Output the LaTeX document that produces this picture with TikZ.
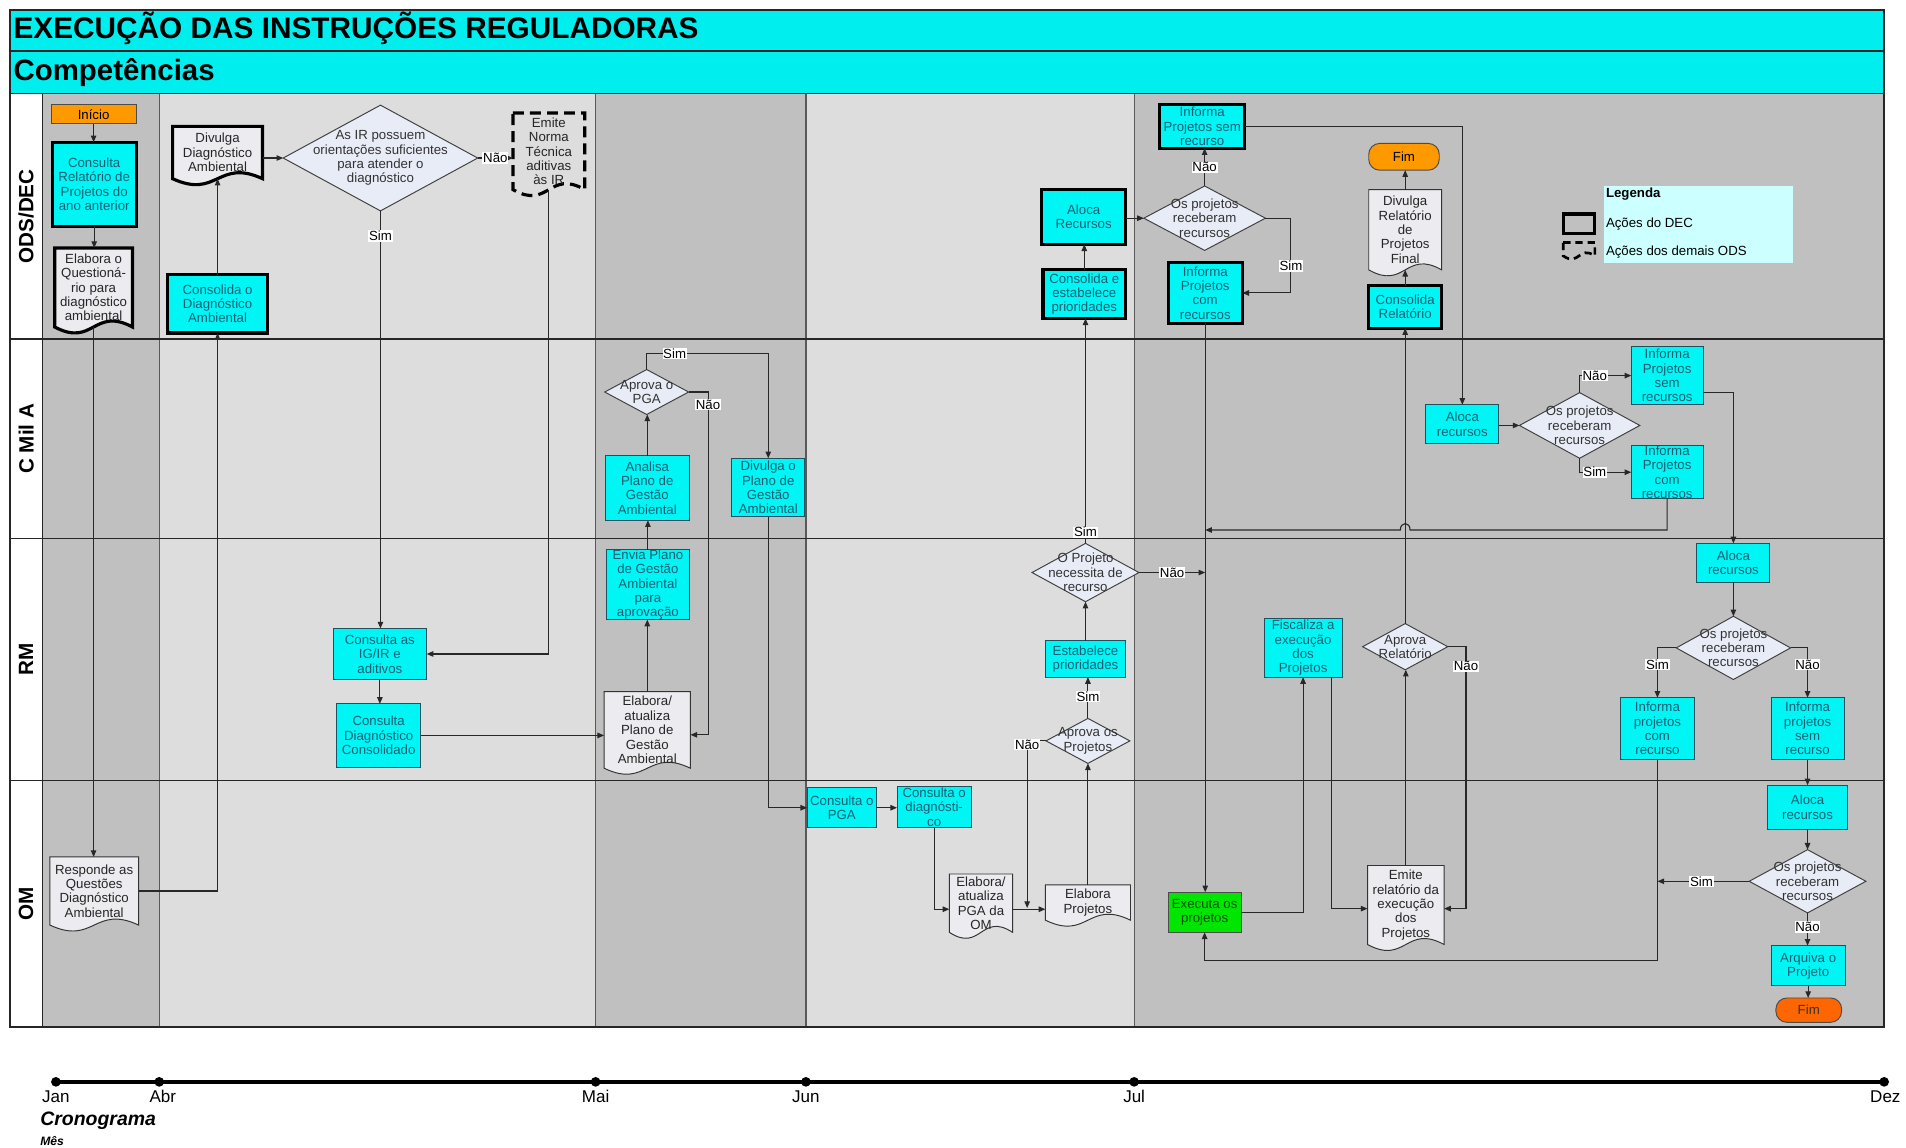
\documentclass[tikz,border=0pt]{standalone}
\usepackage{fontspec}
\setmainfont{Liberation Sans}
\usetikzlibrary{shapes.geometric,arrows.meta,calc}
\definecolor{cyanbox}{RGB}{0,245,245}
\definecolor{titlecyan}{RGB}{0,238,238}
\definecolor{darkcol}{RGB}{192,192,192}
\definecolor{lightcol}{RGB}{221,221,221}
\definecolor{tealtext}{RGB}{25,95,115}
\definecolor{tealborder}{RGB}{30,80,95}
\definecolor{diafill}{RGB}{232,236,246}
\definecolor{docfill}{RGB}{236,236,240}
\definecolor{orangefill}{RGB}{255,153,0}
\definecolor{redorange}{RGB}{255,102,0}
\definecolor{greenfill}{RGB}{0,230,0}
\definecolor{darkgreen}{RGB}{0,80,0}
\definecolor{legendfill}{RGB}{204,255,255}
\definecolor{linecol}{RGB}{40,40,40}
\newcommand{\boxfont}{\fontsize{10.9}{11.8}\selectfont}
\tikzset{
  box/.style={rectangle, draw=tealborder, line width=0.8pt, fill=cyanbox, text=tealtext, align=center, inner sep=0pt, outer sep=0pt, font=\boxfont},
  dec/.style={draw=black, line width=2.6pt},
  docframe/.style={rectangle, draw=none, inner sep=0pt, outer sep=0pt},
  docline/.style={draw=black!80, line width=0.8pt, fill=docfill},
  doctext/.style={align=center, font=\boxfont, text=black!85, inner sep=0pt},
  dia/.style={diamond, draw=black!75, line width=0.8pt, fill=diafill, inner sep=0pt, outer sep=0pt},
  diatext/.style={align=center, font=\boxfont, text=black!80, inner sep=0pt},
  lbl/.style={fill=white, inner sep=0.6pt, font=\boxfont, text=black},
  conn/.style={draw=linecol, line width=0.9pt, -{Triangle[length=5.5pt,width=4.5pt]}},
  lanetitle/.style={rotate=90, font=\fontsize{17}{20}\selectfont\bfseries, inner sep=0pt},
  tickdot/.style={circle, fill=black, inner sep=0pt, minimum size=8pt},
  ticklabel/.style={font=\fontsize{14}{16}\selectfont, inner sep=0pt},
  laneline/.style={draw=black!85, line width=1.4pt},
  colline/.style={draw=black!65, line width=1pt}
}
\newcommand{\flowbox}[7][]{%
  \pgfmathsetmacro{\fbw}{#5-#3}%
  \pgfmathsetmacro{\fbh}{#6-#4}%
  \pgfmathsetmacro{\fbx}{(#3+#5)/2}%
  \pgfmathsetmacro{\fby}{(#4+#6)/2}%
  \node[box,#1,minimum width=\fbw pt,minimum height=\fbh pt] (#2) at (\fbx,\fby) {#7};%
}
\newcommand{\flowdoc}[7][]{%
  \pgfmathsetmacro{\fbw}{#5-#3}%
  \pgfmathsetmacro{\fbh}{#6-#4}%
  \pgfmathsetmacro{\fbx}{(#3+#5)/2}%
  \pgfmathsetmacro{\fby}{(#4+#6)/2}%
  \node[docframe,minimum width=\fbw pt,minimum height=\fbh pt] (#2) at (\fbx,\fby) {};%
  \draw[docline,#1] (#2.north west) -- (#2.north east) -- (#2.south east) .. controls ($(#2.south)+(0,-17)$) and ($(#2.south)+(0,17)$) .. (#2.south west) -- cycle;%
  \node[doctext] (#2-t) at (#2.center) {#7};%
}
\newcommand{\flowdia}[7][]{%
  \node[dia,#1,minimum width=#5pt,minimum height=#6pt] (#2) at (#3,#4) {};%
  \node[diatext] (#2-t) at (#2.center) {#7};%
}
\begin{document}
\begin{tikzpicture}[x=1pt,y=-1pt]
\useasboundingbox (0,0) rectangle (1568,944);
\fill[white] (0,0) rectangle (1568,944);
% bands and columns
\fill[titlecyan] (8,8) rectangle (1550,77);
\fill[darkcol] (35,77) rectangle (131,845);
\fill[lightcol] (131,77) rectangle (490,845);
\fill[darkcol] (490,77) rectangle (663,845);
\fill[lightcol] (663,77) rectangle (933,845);
\fill[darkcol] (933,77) rectangle (1550,845);
\foreach \cx in {131,490,663,933} \draw[colline] (\cx,77) -- (\cx,845);
\draw[laneline] (35,77) -- (35,845);
\foreach \ly in {42,77,279,443,642} \draw[laneline] (8,\ly) -- (1550,\ly);
\draw[laneline] (8,8) rectangle (1550,845);
\node[anchor=west, inner sep=0pt, font=\fontsize{24.5}{28}\selectfont\bfseries] (title) at (11,23) {EXECUÇÃO DAS INSTRUÇÕES REGULADORAS};
\node[anchor=west, inner sep=0pt, font=\fontsize{24.2}{28}\selectfont\bfseries] (comp) at (11,60) {Competências};
\node[lanetitle] (lODS) at (21.5,178) {ODS/DEC};
\node[lanetitle] (lCMA) at (21.5,361) {C Mil A};
\node[lanetitle] (lRM) at (21.5,542.5) {RM};
\node[lanetitle] (lOM) at (21.5,743.5) {OM};

% ODS/DEC
\flowbox[fill=orangefill,draw=black!70,text=black]{inicio}{42}{86}{112}{102}{Início}
\flowbox[dec]{consRel}{43}{117}{112}{186}{Consulta\\Relatório de\\Projetos do\\ano anterior}
\flowdoc[dec]{elabQ}{45}{204}{109}{269}{Elabora o\\Questioná-\\rio para\\diagnóstico\\ambiental}
\flowdoc[dec]{divDiag}{142}{104}{216}{147}{Divulga\\Diagnóstico\\Ambiental}
\flowdia{dIR}{313}{130}{160}{87}{As IR possuem\\orientações suficientes\\para atender o\\diagnóstico}
\flowdoc[dec,fill=none,dash pattern=on 9pt off 5pt]{emite}{422}{93}{481}{156}{Emite\\Norma\\Técnica\\aditivas\\às IR}
\flowbox[dec]{consDiag}{138}{226}{220}{274}{Consolida o\\Diagnóstico\\Ambiental}
\flowbox[dec]{alocaR}{857}{156}{926}{201}{Aloca\\Recursos}
\flowbox[dec]{consEst}{858}{222}{926}{262}{Consolida e\\estabelece\\prioridades}
\flowdia{dRec1}{991}{179.5}{100}{53}{Os projetos\\receberam\\recursos}
\flowbox[dec]{infSem1}{954}{86}{1024}{122}{Informa\\Projetos sem\\recurso}
\flowbox[dec]{infCom1}{961}{216}{1022}{266}{Informa\\Projetos\\com\\recursos}
\flowbox[fill=orangefill,draw=black!70,text=black,rounded corners=9pt]{fim1}{1126}{118}{1184}{140}{Fim}
\flowdoc{divRel}{1126}{156}{1186}{222}{Divulga\\Relatório\\de\\Projetos\\Final}
\flowbox[dec]{consRelat}{1126}{235}{1186}{270}{Consolida\\Relatório}

% legend
\node[fill=legendfill, minimum width=156pt, minimum height=63pt, inner sep=0pt, anchor=north west] (legend) at (1319,153) {};
\node[anchor=west, inner sep=0pt, font=\fontsize{10.9}{12}\selectfont\bfseries] (legT) at (1321,160) {Legenda};
\node[rectangle, draw=black, line width=2.6pt, minimum width=26pt, minimum height=16pt, inner sep=0pt] (leg1) at (1299,184) {};
\node[anchor=west, inner sep=0pt, font=\boxfont] (leg1t) at (1321,184) {Ações do DEC};
\node[docframe, minimum width=26pt, minimum height=11pt] (leg2) at (1299,205) {};
\draw[draw=black, line width=2.2pt, dash pattern=on 6pt off 4pt] (leg2.north west) -- (leg2.north east) -- (leg2.south east) .. controls ($(leg2.south)+(0,-9)$) and ($(leg2.south)+(0,9)$) .. (leg2.south west) -- cycle;
\node[anchor=west, inner sep=0pt, font=\boxfont] (leg2t) at (1321,207) {Ações dos demais ODS};

% C Mil A
\flowdia{dPGA}{532}{322.5}{69}{37}{Aprova o\\PGA}
\flowbox{analisa}{498}{375}{567}{428}{Analisa\\Plano de\\Gestão\\Ambiental}
\flowbox{divPlano}{602}{377}{662}{425}{Divulga o\\Plano de\\Gestão\\Ambiental}
\flowbox{alocaC}{1173}{333}{1233}{365}{Aloca\\recursos}
\flowdia{dRec2}{1299.5}{350}{99}{54}{Os projetos\\receberam\\recursos}
\flowbox{infSemC}{1342}{285}{1401}{333}{Informa\\Projetos\\sem\\recursos}
\flowbox{infComC}{1342}{367}{1401}{410}{Informa\\Projetos\\com\\recursos}

% RM
\flowbox{envia}{499}{453}{567}{509}{Envia Plano\\de Gestão\\Ambiental\\para\\aprovação}
\flowbox{consIG}{274}{517}{351}{559}{Consulta as\\IG/IR e\\aditivos}
\flowbox{consDC}{277}{579}{346}{631}{Consulta\\Diagnóstico\\Consolidado}
\flowdoc{elabPGA}{497}{569}{568}{632}{Elabora/\\atualiza\\Plano de\\Gestão\\Ambiental}
\flowdia{dProj}{893}{471}{88}{48}{O Projeto\\necessita de\\recurso}
\flowbox{estab}{860}{527}{926}{557}{Estabelece\\prioridades}
\flowdia{dAprov}{895}{609.5}{69}{37}{Aprova os\\Projetos}
\flowbox{fisc}{1040}{509}{1104}{557}{Fiscaliza a\\execução\\dos\\Projetos}
\flowdia{dRel}{1156}{532}{70}{38}{Aprova\\Relatório}
\flowbox{alocaRM}{1396}{447}{1456}{479}{Aloca\\recursos}
\flowdia{dRec3}{1426}{533}{94}{52}{Os projetos\\receberam\\recursos}
\flowbox{infComRM}{1333}{574}{1394}{625}{Informa\\projetos\\com\\recurso}
\flowbox{infSemRM}{1457}{574}{1517}{625}{Informa\\projetos\\sem\\recurso}

% OM
\flowdoc{resp}{41}{705}{114}{761}{Responde as\\Questões\\Diagnóstico\\Ambiental}
\flowbox{consPGA}{664}{648}{721}{681}{Consulta o\\PGA}
\flowbox{consDg}{738}{647}{799}{681}{Consulta o\\diagnósti-\\co}
\flowdoc{elabOM}{781}{719}{833}{767}{Elabora/\\atualiza\\PGA da\\OM}
\flowdoc{elabProj}{860}{728}{930}{757}{Elabora\\Projetos}
\flowbox[fill=greenfill,draw=black!70,text=darkgreen]{exec}{961}{734}{1021}{767}{Executa os\\projetos}
\flowdoc{emiteRel}{1125}{712}{1188}{777}{Emite\\relatório da\\execução\\dos\\Projetos}
\flowbox{alocaOM}{1454}{646}{1520}{682}{Aloca\\recursos}
\flowdia{dRec4}{1487}{725}{96}{52}{Os projetos\\receberam\\recursos}
\flowbox{arquiva}{1457}{778}{1518}{811}{Arquiva o\\Projeto}
\flowbox[fill=redorange,draw=black!70,text=black!80,rounded corners=9pt]{fim2}{1461}{821}{1515}{841}{Fim}

% helper coordinates
\coordinate (yHop) at (0,436);
\coordinate (yLow) at (0,790);
\coordinate (jOM) at (845,748);

% connectors
\draw[conn] (inicio.south) -- (inicio.south |- consRel.north);
\draw[conn] (consRel.south) -- (consRel.south |- elabQ.north);
\draw[conn] (elabQ.south) -- (elabQ.south |- resp.north);
\draw[conn] (resp.east) -| (consDiag.south);
\draw[conn] (consDiag.north) -- (consDiag.north |- divDiag.south);
\draw[conn] (dIR.west -| divDiag.east) -- (dIR.west);
\draw[conn] (dIR.east) -- (dIR.east -| emite.west) node[lbl,pos=0.5] (nNao1) {Não};
\draw[conn] (emite.south) |- (consIG.east);
\draw[conn] (dIR.south) -- (dIR.south |- consIG.north) node[lbl,pos=0.06] (nSim1) {Sim};
\draw[conn] (consIG.south) -- (consIG.south |- consDC.north);
\draw[conn] (consDC.east) -- (consDC.east -| elabPGA.west);
\draw[conn] (elabPGA.north) -- (elabPGA.north |- envia.south);
\draw[conn] (envia.north) -- (envia.north |- analisa.south);
\draw[conn] (analisa.north) -- (analisa.north |- dPGA.south);
\draw[conn] (dPGA.north) -- ++(0,-13) -| node[lbl,pos=0.115] (nSim2) {Sim} (divPlano.north);
\draw[conn] (dPGA.east) -- ++(16,0) -- ++(0,10.5) node[lbl] (nNao2) {Não} |- ([yshift=-4pt]elabPGA.east);
\draw[conn] (divPlano.south) |- (consPGA.west);
\draw[conn] (consPGA.east) -- (consPGA.east -| consDg.west);
\draw[conn] (consDg.south) |- ([yshift=-5pt]elabOM.west);
\draw[conn] (elabOM.east |- jOM) -- (elabProj.west |- jOM);
\draw[conn] (dAprov.west) -| node[lbl,pos=0.5,yshift=-3pt] (nNao3) {Não} ([yshift=1pt]jOM);
\draw[conn] (elabProj.north) -- (elabProj.north |- dAprov.south);
\draw[conn] (dAprov.north) -- (dAprov.north |- estab.south) node[lbl,pos=0.53] (nSim3) {Sim};
\draw[conn] (estab.north) -- (estab.north |- dProj.south);
\draw[conn] (dProj.north) -- (dProj.north |- consEst.south) node[lbl,pos=0.05] (nSim4) {Sim};
\draw[conn] (consEst.north) -- (consEst.north |- alocaR.south);
\draw[conn] (dRec1.west -| alocaR.east) -- (dRec1.west);
\draw[conn] (dRec1.north) -- (dRec1.north |- infSem1.south) node[lbl,pos=0.5] (nNao4) {Não};
\draw[conn] (dRec1.east) -- ++(21,0) |- node[lbl,pos=0.32] (nSim5) {Sim} (infCom1.east);
\draw[conn] (infSem1.east) -| (alocaC.north);
\draw[conn] (infCom1.south) -- (infCom1.south |- exec.north);
\draw[conn] (dProj.east) -- (infCom1.south |- dProj.east) node[lbl,pos=0.5] (nNao5) {Não};
\draw[conn] (infComC.south) |- (1160,436) .. controls (1160,429) and (1152,429) .. (1152,436) -- (infCom1.south |- yHop);
\draw[conn] ([yshift=-14pt]infSemC.east) -| (alocaRM.north);
\draw[conn] (dRec2.west -| alocaC.east) -- (dRec2.west);
\draw[conn] (dRec2.north) |- node[lbl,pos=0.647] (nNao6) {Não} (infSemC.west);
\draw[conn] (dRec2.south) |- node[lbl,pos=0.647] (nSim6) {Sim} (infComC.west);
\draw[conn] (alocaRM.south) -- (alocaRM.south |- dRec3.north);
\draw[conn] (dRec3.west) -| node[lbl,pos=0.67] (nSim7) {Sim} (infComRM.north);
\draw[conn] (dRec3.east) -| node[lbl,pos=0.67] (nNao7) {Não} (infSemRM.north);
\draw[conn] (infSemRM.south) -- (infSemRM.south |- alocaOM.north);
\draw[conn] (alocaOM.south) -- (alocaOM.south |- dRec4.north);
\draw[conn] (dRec4.south) -- (dRec4.south |- arquiva.north) node[lbl,pos=0.43] (nNao8) {Não};
\draw[conn] (arquiva.south) -- (arquiva.south |- fim2.north);
\draw[conn] (dRec4.west) -- (infComRM.south |- dRec4.west) node[lbl,pos=0.52] (nSim8) {Sim};
\draw[conn] (infComRM.south) |- (exec.south |- yLow) -- (exec.south);
\draw[conn] (exec.east) -| (fisc.south);
\draw[conn] ([xshift=23pt]fisc.south) |- ([yshift=-3pt]emiteRel.west);
\draw[conn] (dRel.east) -- ++(15,0) |- node[lbl,pos=0.037] (nNao9) {Não} ([yshift=-3pt]emiteRel.east);
\draw[conn] (emiteRel.north) -- (emiteRel.north |- dRel.south);
\draw[conn] (dRel.north) -- (dRel.north |- consRelat.south);
\draw[conn] (consRelat.north) -- (consRelat.north |- divRel.south);
\draw[conn] (divRel.north) -- (divRel.north |- fim1.south);

% timeline
\node[tickdot] (tJan) at (46,890) {};
\node[tickdot] (tAbr) at (131,890) {};
\node[tickdot] (tMai) at (490,890) {};
\node[tickdot] (tJun) at (663,890) {};
\node[tickdot] (tJul) at (933,890) {};
\node[tickdot] (tDez) at (1550,890) {};
\draw[line width=3pt] (tJan.center) -- (tDez.center);
\node[ticklabel] (lJan) at (46,902) {Jan};
\node[ticklabel] (lAbr) at (134,902) {Abr};
\node[ticklabel] (lMai) at (490,902) {Mai};
\node[ticklabel] (lJun) at (663,902) {Jun};
\node[ticklabel] (lJul) at (933,902) {Jul};
\node[ticklabel] (lDez) at (1551,902) {Dez};
\node[anchor=west, inner sep=0pt, font=\fontsize{16}{18}\selectfont\bfseries\itshape] (cron) at (33,922) {Cronograma};
\node[anchor=west, inner sep=0pt, font=\fontsize{10}{12}\selectfont\bfseries\itshape] (mes) at (33,939) {Mês};
\end{tikzpicture}
\end{document}
